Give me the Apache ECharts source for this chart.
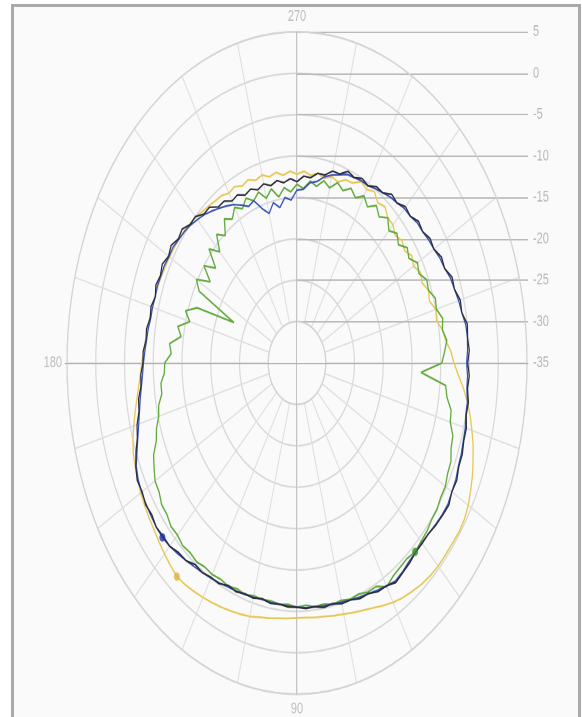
<!DOCTYPE html>
<html>
<head>
<meta charset="utf-8">
<script src="https://cdn.jsdelivr.net/npm/echarts@6/dist/echarts.min.js"></script>
<style>
  html, body { margin: 0; padding: 0; background: #ffffff; }
  body { width: 582px; height: 717px; position: relative; overflow: hidden; }
  #frame {
    position: absolute; left: 11px; top: 4px; width: 564px; height: 760px;
    border: 3px solid #a9a9a9; background: #fafafa;
  }
  /* the pattern is drawn round, then stretched to its elliptical frame */
  #chart {
    position: absolute; left: 0; top: 0; width: 582px; height: 498px;
    transform: scaleY(1.4398); transform-origin: 0 0;
  }
</style>
</head>
<body>
<div id="frame"></div>
<div id="chart"></div>
<script>
// sample angles, degrees, clockwise from 3 o'clock
const angles = [
  0, 3, 6, 9, 12, 15, 18, 21, 24, 27, 30, 33, 36, 39, 42, 45, 48, 51, 54, 57,
  60, 63, 66, 69, 72, 75, 78, 81, 84, 87, 90, 93, 96, 99, 102, 105, 108, 111, 114, 117,
  120, 123, 126, 129, 132, 135, 138, 141, 144, 147, 150, 153, 156, 159, 162, 165, 168, 171, 174, 177,
  180, 183, 186, 189, 192, 195, 198, 201, 204, 207, 210, 213, 216, 219, 222, 225, 228, 231, 234, 237,
  240, 243, 246, 249, 252, 255, 258, 261, 264, 267, 270, 273, 276, 279, 282, 285, 288, 291, 294, 297,
  300, 303, 306, 309, 312, 315, 318, 321, 324, 327, 330, 333, 336, 339, 342, 345, 348, 351, 354, 357
];

// levels in dB
const blackLevel = [
  -5.3, -5.0, -5.2, -4.8, -4.9, -4.5, -4.5, -4.2, -4.2, -3.8, -3.9, -3.5, -3.7, -3.9, -4.2, -4.2, -4.2, -3.9, -3.7, -3.4,
  -3.9, -4.0, -4.5, -4.5, -4.9, -4.9, -5.3, -5.1, -5.4, -5.3, -5.5, -5.5, -5.7, -5.6, -5.9, -5.6, -5.7, -5.4, -5.6, -5.1,
  -5.1, -4.8, -4.9, -4.3, -4.2, -3.7, -3.7, -3.5, -3.8, -3.6, -3.9, -3.8, -4.3, -5.0, -5.8, -6.2, -6.9, -7.1, -7.7, -7.8,
  -8.2, -8.2, -8.6, -8.5, -8.9, -8.7, -9.1, -8.7, -9.0, -8.7, -9.2, -8.9, -9.5, -9.3, -10.0, -10.0, -10.8, -10.8, -11.7, -11.7,
  -12.4, -12.2, -12.8, -12.5, -13.0, -12.6, -13.1, -12.7, -13.1, -12.7, -13.1, -12.4, -12.5, -11.8, -11.8, -11.0, -11.0, -10.2, -10.5, -10.0,
  -10.3, -9.6, -9.6, -8.8, -9.0, -8.3, -8.5, -7.8, -8.0, -7.4, -7.5, -6.8, -6.9, -6.1, -6.2, -5.6, -5.7, -5.0, -5.2, -5.0
];

const blueLevel = [
  -5.5, -5.3, -5.3, -5.0, -5.0, -4.7, -4.6, -4.4, -4.3, -4.0, -3.9, -3.7, -3.8, -4.0, -4.2, -4.3, -4.2, -4.1, -3.8, -3.6,
  -3.9, -4.2, -4.5, -4.7, -4.9, -5.1, -5.2, -5.3, -5.4, -5.4, -5.5, -5.6, -5.7, -5.7, -5.8, -5.7, -5.6, -5.5, -5.4, -5.2,
  -5.0, -4.8, -4.6, -4.3, -4.0, -3.7, -3.5, -3.5, -3.6, -3.7, -3.8, -4.0, -4.4, -5.2, -5.9, -6.5, -7.0, -7.4, -7.8, -8.1,
  -8.3, -8.5, -8.7, -8.8, -9.0, -9.0, -9.1, -9.0, -9.1, -9.1, -9.3, -9.3, -9.6, -9.8, -10.1, -10.5, -10.9, -11.4, -11.9, -12.4,
  -12.9, -13.6, -14.3, -14.0, -15.4, -16.3, -15.2, -16.0, -14.9, -15.3, -14.1, -14.0, -13.1, -12.8, -12.0, -11.5, -11.1, -10.6, -10.5, -10.3,
  -10.3, -9.9, -9.6, -9.2, -9.0, -8.6, -8.5, -8.1, -8.0, -7.7, -7.5, -7.1, -6.9, -6.4, -6.2, -5.9, -5.7, -5.3, -5.2, -5.3
];

const greenLevel = [
  -9.8, -13.4, -9.0, -8.6, -7.6, -7.4, -6.5, -6.3, -5.7, -5.6, -5.2, -5.2, -4.9, -4.9, -4.6, -4.5, -4.3, -4.6, -4.5, -4.3,
  -3.8, -4.7, -4.7, -5.1, -5.0, -5.3, -5.2, -5.5, -5.4, -5.7, -5.5, -5.8, -5.7, -5.9, -5.8, -5.9, -5.6, -5.8, -5.5, -5.7,
  -5.5, -5.6, -5.3, -5.5, -5.3, -5.6, -5.5, -5.9, -5.9, -6.4, -6.5, -7.1, -7.7, -8.8, -9.3, -10.1, -10.4, -11.2, -11.2, -11.9,
  -12.0, -13.1, -12.7, -14.6, -13.8, -15.7, -14.6, -16.4, -23.0, -15.9, -14.8, -17.0, -15.0, -16.8, -14.4, -16.0, -14.1, -15.2, -13.5, -14.3,
  -13.3, -14.1, -13.2, -14.0, -13.3, -14.4, -13.5, -14.7, -13.7, -14.3, -13.4, -13.9, -12.9, -13.4, -12.5, -13.1, -12.1, -12.7, -11.9, -12.6,
  -11.7, -12.5, -11.5, -12.3, -11.4, -12.4, -11.6, -12.3, -11.3, -11.8, -10.8, -11.2, -10.3, -10.5, -9.7, -9.9, -9.1, -9.4, -8.8, -9.3
];

const yellowLevel = [
  -7.7, -6.9, -5.9, -5.0, -4.2, -3.5, -2.8, -2.2, -1.6, -1.1, -0.6, -0.3, -0.2, -0.3, -0.3, -0.3, -0.4, -0.6, -0.9, -1.2,
  -1.6, -2.1, -2.6, -3.0, -3.3, -3.6, -3.8, -4.0, -4.1, -4.2, -4.2, -4.1, -4.0, -3.8, -3.6, -3.3, -3.1, -2.9, -2.7, -2.5,
  -2.3, -2.1, -1.9, -1.8, -2.1, -2.4, -2.7, -3.0, -3.2, -3.4, -3.6, -3.9, -4.2, -4.5, -5.0, -5.6, -6.2, -6.8, -7.3, -7.7,
  -8.0, -8.3, -8.5, -8.7, -8.8, -8.9, -9.0, -9.1, -9.2, -9.3, -9.4, -9.5, -9.6, -9.7, -9.9, -10.1, -10.4, -10.6, -10.8, -10.9,
  -11.3, -11.1, -11.6, -11.3, -11.8, -11.5, -12.0, -11.7, -12.2, -11.8, -12.2, -11.8, -12.2, -11.8, -12.2, -11.7, -12.0, -11.3, -11.2, -10.4,
  -10.8, -10.3, -11.1, -10.7, -11.4, -11.4, -12.0, -11.5, -11.9, -11.2, -11.6, -10.9, -11.2, -10.5, -10.8, -10.0, -10.2, -9.4, -9.0, -8.2
];

// one highlighted sample per trace (index into angles)
const blueMarkIdx = 46;
const greenMarkIdx = 16;
const yellowMarkIdx = 43;

// angle labels shown around the rim
const angleLabels = { 90: '90', 180: '180', 270: '270' };
// right-hand level scale
const levelMin = -35, levelMax = 5, levelStep = 5;
const ringMin = -30;

function closedTrace(levels) {
  const pts = levels.map((v, i) => [v, angles[i]]);
  pts.push([levels[0], 360]);
  return pts;
}
function markPoint(levels, idx) {
  return [[levels[idx], angles[idx]]];
}

const chart = echarts.init(document.getElementById('chart'), null, { devicePixelRatio: 2 });

const cx = 297, cy = 252.1, rOut = 230, rIn = 28.75;
const W = 582, H = 498;
const font = 'Liberation Sans, DejaVu Sans, sans-serif';

chart.setOption({
  animation: false,
  backgroundColor: 'transparent',
  polar: { center: [cx, cy], radius: [rIn, rOut] },
  angleAxis: {
    type: 'value', min: 0, max: 360, interval: 15,
    startAngle: 0, clockwise: true,
    axisLine: { show: true, lineStyle: { color: '#d4d4d4', width: 1.2 } },
    axisTick: { show: false },
    axisLabel: {
      formatter: v => angleLabels[v] || '',
      color: '#bdbdbd', fontSize: 11, margin: 5, fontFamily: font
    },
    splitLine: { show: true, lineStyle: { color: '#dedede', width: 1 } }
  },
  radiusAxis: {
    type: 'value', min: ringMin, max: levelMax, interval: levelStep,
    axisLine: { show: false }, axisTick: { show: false }, axisLabel: { show: false },
    splitLine: { show: true, lineStyle: { color: '#d8d8d8', width: 1.2 } }
  },
  grid: [
    { left: cx, right: W - 528, top: cy - rOut, bottom: H - cy },
    { left: 65, right: W - 528, top: cy - rOut, bottom: H - cy - rOut }
  ],
  xAxis: [
    { gridIndex: 0, type: 'value', min: 0, max: 1, show: false },
    { gridIndex: 1, type: 'value', min: -1, max: 1,
      axisLine: { show: true, onZero: true, lineStyle: { color: '#b2b2b2', width: 1 } },
      axisTick: { show: false }, axisLabel: { show: false }, splitLine: { show: false } }
  ],
  yAxis: [
    { gridIndex: 0, type: 'value', position: 'right',
      min: levelMin, max: levelMax, interval: levelStep,
      axisLine: { show: false }, axisTick: { show: false },
      axisLabel: { color: '#b6b6b6', fontSize: 11, margin: 5, fontFamily: font },
      splitLine: { show: true, lineStyle: { color: '#b9b9b9', width: 1 } } },
    { gridIndex: 1, type: 'value', min: -1, max: 1,
      axisLine: { show: true, onZero: true, lineStyle: { color: '#c4c4c4', width: 1 } },
      axisTick: { show: false }, axisLabel: { show: false }, splitLine: { show: false } }
  ],
  series: [
    { name: 'yellow', type: 'line', coordinateSystem: 'polar', data: closedTrace(yellowLevel),
      symbol: 'none', lineStyle: { color: '#e6c757', width: 1.3 }, z: 3 },
    { name: 'green', type: 'line', coordinateSystem: 'polar', data: closedTrace(greenLevel),
      symbol: 'none', lineStyle: { color: '#62aa3c', width: 1.3 }, z: 4 },
    { name: 'blue', type: 'line', coordinateSystem: 'polar', data: closedTrace(blueLevel),
      symbol: 'none', lineStyle: { color: '#3550b8', width: 1.2 }, z: 5 },
    { name: 'black', type: 'line', coordinateSystem: 'polar', data: closedTrace(blackLevel),
      symbol: 'none', lineStyle: { color: '#2c2c3a', width: 1.2 }, z: 6 },
    { type: 'scatter', coordinateSystem: 'polar', data: markPoint(yellowLevel, yellowMarkIdx),
      symbolSize: 6, itemStyle: { color: '#d8b446' }, z: 7 },
    { type: 'scatter', coordinateSystem: 'polar', data: markPoint(greenLevel, greenMarkIdx),
      symbolSize: 6, itemStyle: { color: '#3e8a2a' }, z: 7 },
    { type: 'scatter', coordinateSystem: 'polar', data: markPoint(blueLevel, blueMarkIdx),
      symbolSize: 6, itemStyle: { color: '#1f35a0' }, z: 7 }
  ]
});
</script>
</body>
</html>
